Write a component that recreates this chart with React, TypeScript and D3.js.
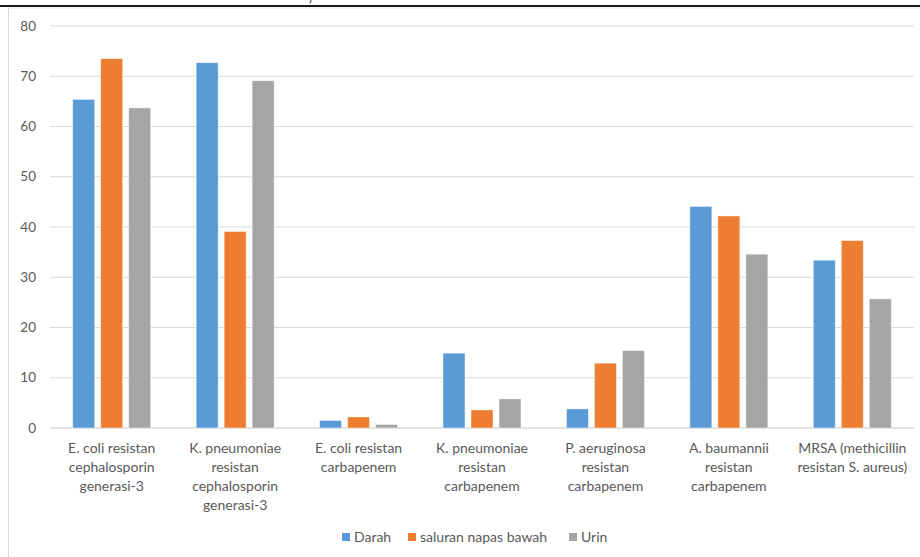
import React from "react";
import * as d3 from "d3";

const categories: string[][] = [
  ["E. coli resistan", "cephalosporin", "generasi-3"],
  ["K. pneumoniae", "resistan", "cephalosporin", "generasi-3"],
  ["E. coli resistan", "carbapenem"],
  ["K. pneumoniae", "resistan", "carbapenem"],
  ["P. aeruginosa", "resistan", "carbapenem"],
  ["A. baumannii", "resistan", "carbapenem"],
  ["MRSA (methicillin", "resistan S. aureus)"],
];
const seriesNames = ["Darah", "saluran napas bawah", "Urin"];
const darah = [65.4, 72.7, 1.5, 14.9, 3.8, 44.1, 33.4];
const saluran = [73.5, 39.1, 2.2, 3.6, 12.9, 42.2, 37.3];
const urin = [63.7, 69.1, 0.7, 5.8, 15.4, 34.6, 25.7];
const yTicks = [0, 10, 20, 30, 40, 50, 60, 70, 80];
const colors = ["#5B9BD5", "#ED7D31", "#A5A5A5"];

const W = 920;
const H = 557;
const FONT = "Lato, 'Open Sans', sans-serif";

export default function App() {
  const series = [darah, saluran, urin];
  const x = d3
    .scaleBand<number>()
    .domain(d3.range(categories.length))
    .range([50, 914])
    .paddingInner(0)
    .paddingOuter(0);
  const y = d3.scaleLinear().domain([0, 80]).range([428, 26]);
  const barW = 22;
  const step = 28;
  const groupW = barW + step * 2;

  const legendX = [342, 408, 569];

  return (
    <svg
      width={W}
      height={H}
      style={{ position: "absolute", left: 0, top: 0, background: "#fff" }}
      fontFamily={FONT}
    >
      <rect x={0} y={0} width={W} height={H} fill="#fff" />
      {/* cut-off text at top */}
      <text x={309} y={2} fontSize={12} fill="#333">)</text>
      {/* top rule */}
      <line x1={0} x2={W} y1={6} y2={6} stroke="#1a1a1a" strokeWidth={2} />
      {/* chart border */}
      <line x1={8.5} x2={8.5} y1={8} y2={H} stroke="#d9d9d9" strokeWidth={1} />
      <line x1={8} x2={W} y1={8} y2={8} stroke="#e6e6e6" strokeWidth={1} />
      {/* gridlines */}
      {yTicks.map((t) => (
        <g key={t}>
          <line
            x1={50}
            x2={914}
            y1={y(t)}
            y2={y(t)}
            stroke="#d9d9d9"
            strokeWidth={t === 0 ? 1.5 : 1.2}
          />
          <text
            x={36}
            y={y(t)}
            dy="0.35em"
            textAnchor="end"
            fontSize={13.5}
            fill="#595959"
          >
            {t}
          </text>
        </g>
      ))}
      {/* bars */}
      {categories.map((_, i) => {
        const cx = (x(i) as number) + x.bandwidth() / 2;
        const x0 = cx - groupW / 2;
        return (
          <g key={i}>
            {series.map((s, j) => (
              <rect
                key={j}
                x={x0 + j * step}
                y={y(s[i])}
                width={barW}
                height={y(0) - y(s[i])}
                fill={colors[j]}
                stroke="#ffffff"
                strokeOpacity={0.6}
                strokeWidth={0.75}
              />
            ))}
          </g>
        );
      })}
      {/* category labels */}
      {categories.map((lines, i) => {
        const cx = (x(i) as number) + x.bandwidth() / 2;
        return (
          <text
            key={i}
            x={cx}
            textAnchor="middle"
            fontSize={14}
            fill="#595959"
          >
            {lines.map((l, k) => (
              <tspan key={k} x={cx} y={452.5 + k * 19}>
                {l}
              </tspan>
            ))}
          </text>
        );
      })}
      {/* legend */}
      {seriesNames.map((n, j) => (
        <g key={n}>
          <rect x={legendX[j]} y={533} width={8} height={8} fill={colors[j]} />
          <text x={legendX[j] + 12} y={537.5} dy="0.35em" fontSize={14} fill="#595959">
            {n}
          </text>
        </g>
      ))}
    </svg>
  );
}
